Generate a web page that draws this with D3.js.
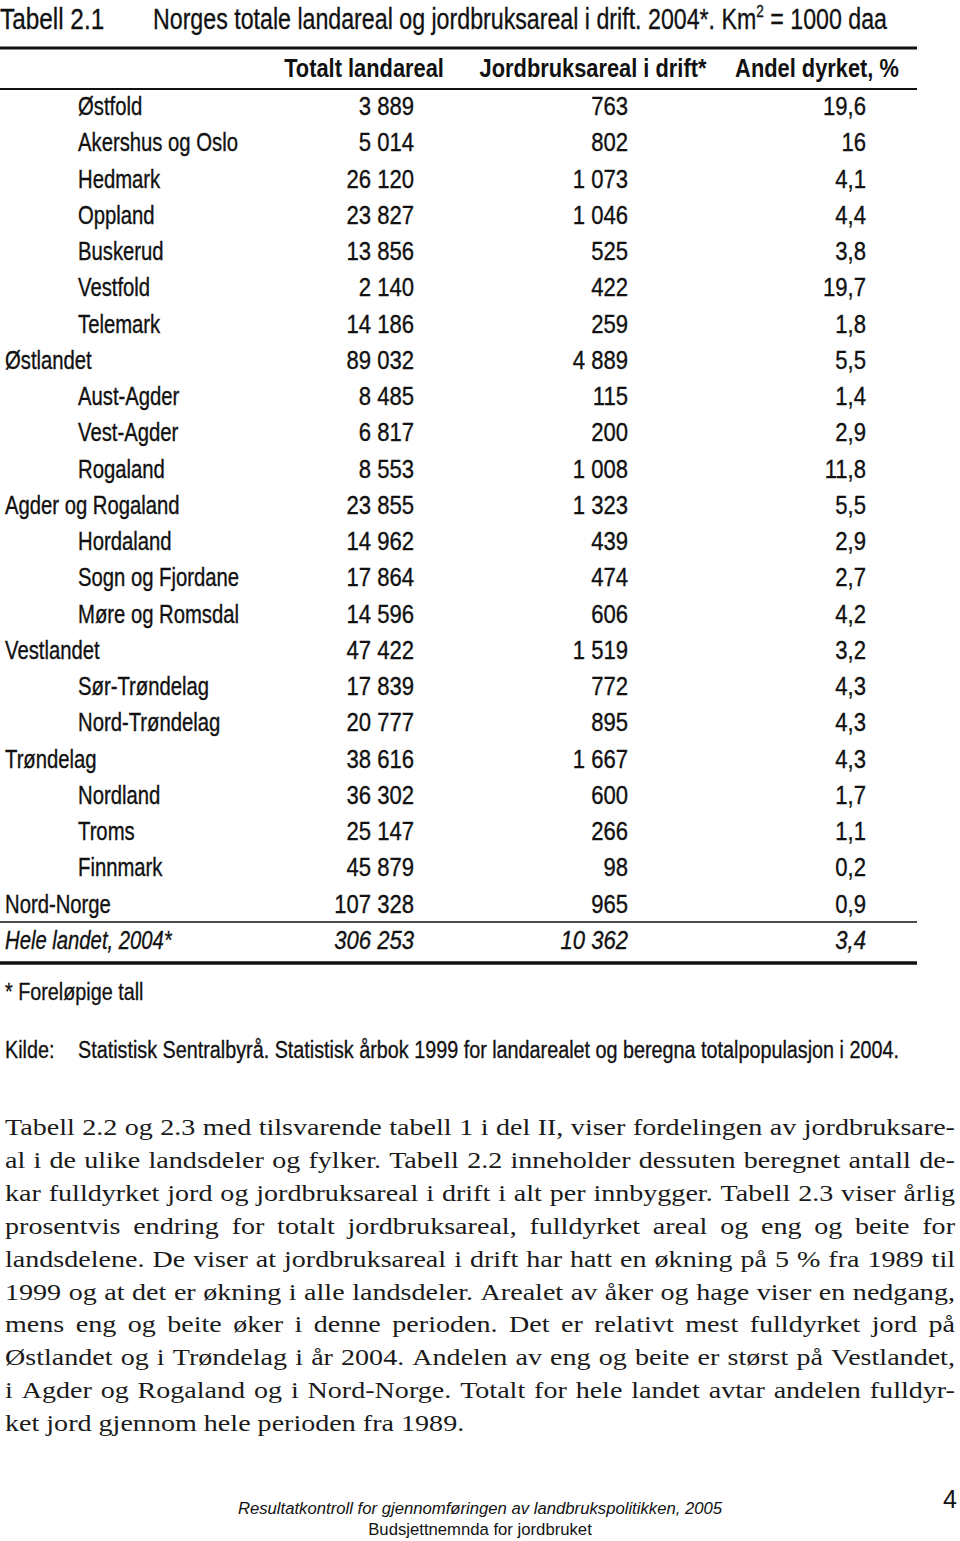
<!DOCTYPE html>
<html>
<head>
<meta charset="utf-8">
<script src="https://cdn.jsdelivr.net/npm/d3@7"></script>
<style>
  body { margin: 0; background: #fff; }
  svg { display: block; }
</style>
</head>
<body>
<script>
const regions = ["Østfold", "Akershus og Oslo", "Hedmark", "Oppland", "Buskerud", "Vestfold", "Telemark",
    "Østlandet", "Aust-Agder", "Vest-Agder", "Rogaland", "Agder og Rogaland", "Hordaland",
    "Sogn og Fjordane", "Møre og Romsdal", "Vestlandet", "Sør-Trøndelag", "Nord-Trøndelag",
    "Trøndelag", "Nordland", "Troms", "Finnmark", "Nord-Norge", "Hele landet, 2004*"];
const indented = [1, 1, 1, 1, 1, 1, 1, 0, 1, 1, 1, 0, 1, 1, 1, 0, 1, 1, 0, 1, 1, 1, 0, 0];
const totalArea = [3889, 5014, 26120, 23827, 13856, 2140, 14186, 89032, 8485, 6817, 8553, 23855,
    14962, 17864, 14596, 47422, 17839, 20777, 38616, 36302, 25147, 45879, 107328, 306253];
const farmArea = [763, 802, 1073, 1046, 525, 422, 259, 4889, 115, 200, 1008, 1323,
    439, 474, 606, 1519, 772, 895, 1667, 600, 266, 98, 965, 10362];
const shareCultivated = [19.6, 16, 4.1, 4.4, 3.8, 19.7, 1.8, 5.5, 1.4, 2.9, 11.8, 5.5,
    2.9, 2.7, 4.2, 3.2, 4.3, 4.3, 4.3, 1.7, 1.1, 0.2, 0.9, 3.4];
const headers = ["Totalt landareal", "Jordbruksareal i drift*", "Andel dyrket, %"];

const paragraph = [
    "Tabell 2.2 og 2.3 med tilsvarende tabell 1 i del II, viser fordelingen av jordbruksare-",
    "al i de ulike landsdeler og fylker. Tabell 2.2 inneholder dessuten beregnet antall de-",
    "kar fulldyrket jord og jordbruksareal i drift i alt per innbygger. Tabell 2.3 viser årlig",
    "prosentvis endring for totalt jordbruksareal, fulldyrket areal og eng og beite for",
    "landsdelene. De viser at jordbruksareal i drift har hatt en økning på 5 % fra 1989 til",
    "1999 og at det er økning i alle landsdeler. Arealet av åker og hage viser en nedgang,",
    "mens eng og beite øker i denne perioden. Det er relativt mest fulldyrket jord på",
    "Østlandet og i Trøndelag i år 2004. Andelen av eng og beite er størst på Vestlandet,",
    "i Agder og Rogaland og i Nord-Norge. Totalt for hele landet avtar andelen fulldyr-",
    "ket jord gjennom hele perioden fra 1989."
];

const W = 960, H = 1541;
const sans = "'Liberation Sans', Arial, sans-serif";
const serif = "'Liberation Serif', 'DejaVu Serif', serif";
const SX = 0.78;      // condensed look for the table font
const SX_NUM = 0.85;
const SX_HEAD = 0.84;
const SX_SERIF = 1.17;
const ink = "#111";

const svg = d3.select("body").append("svg")
    .attr("width", W)
    .attr("height", H)
    .attr("viewBox", "0 0 " + W + " " + H);

const no = d3.formatLocale({decimal: ",", thousands: " ", grouping: [3], currency: ["", ""]});
const fmtInt = no.format(",d");
const fmtPct = no.format(",.1~f");

function tr(x, y, sx) {
    return "translate(" + x + "," + y + ") scale(" + sx + ",1)";
}

const rows = regions.map((name, i) => ({
    name: name,
    indent: indented[i],
    total: totalArea[i],
    farm: farmArea[i],
    share: shareCultivated[i],
    last: i === regions.length - 1
}));

// title
svg.append("text")
    .attr("transform", tr(0, 29, 0.84))
    .attr("font-family", sans)
    .attr("font-size", "29px")
    .attr("fill", ink)
    .attr("stroke", ink).attr("stroke-width", 0.3)
    .text("Tabell 2.1");
const title = svg.append("text")
    .attr("transform", tr(153, 29, 0.8))
    .attr("font-family", sans)
    .attr("font-size", "29px")
    .attr("fill", ink)
    .attr("stroke", ink).attr("stroke-width", 0.3);
title.append("tspan").text("Norges totale landareal og jordbruksareal i drift. 2004*. Km");
title.append("tspan").attr("font-size", "17px").attr("dy", -12).text("2");
title.append("tspan").attr("dy", 12).text(" =  1000 daa");

// row + column scales
const y = d3.scalePoint().domain(rows.map(d => d.name)).range([106, 940]);
const colRight = d3.scaleOrdinal().domain(["total", "farm", "share"]).range([414, 628, 866]);
const headCenter = d3.scaleOrdinal().domain(headers).range([364, 593, 817]);

// rules
const rules = [
    {y: 48, w: 3},
    {y: 89, w: 2},
    {y: 922, w: 1.5},
    {y: 963, w: 3.5}
];
svg.selectAll(".rule")
    .data(rules)
    .enter()
    .append("line")
    .attr("class", "rule")
    .attr("x1", 0)
    .attr("x2", 917)
    .attr("y1", d => d.y)
    .attr("y2", d => d.y)
    .attr("stroke", ink)
    .attr("stroke-width", d => d.w);

// header
svg.selectAll(".head")
    .data(headers)
    .enter()
    .append("text")
    .attr("class", "head")
    .attr("transform", d => tr(headCenter(d), 77, SX_HEAD))
    .attr("text-anchor", "middle")
    .attr("font-family", sans)
    .attr("font-size", "26px")
    .attr("font-weight", "bold")
    .attr("fill", ink)
    .text(d => d);

// body rows
const row = svg.selectAll(".row")
    .data(rows)
    .enter()
    .append("g")
    .attr("class", "row")
    .attr("transform", d => "translate(0," + (y(d.name) + 9) + ")")
    .attr("font-family", sans)
    .attr("font-size", "26px")
    .attr("fill", ink)
    .attr("stroke", ink)
    .attr("stroke-width", 0.35)
    .attr("font-style", d => d.last ? "italic" : "normal");

row.append("text")
    .attr("transform", d => tr(d.indent ? 78 : 5, 0, SX))
    .text(d => d.name);

row.append("text")
    .attr("transform", tr(colRight("total"), 0, SX_NUM))
    .attr("text-anchor", "end")
    .text(d => fmtInt(d.total));

row.append("text")
    .attr("transform", tr(colRight("farm"), 0, SX_NUM))
    .attr("text-anchor", "end")
    .text(d => fmtInt(d.farm));

row.append("text")
    .attr("transform", tr(colRight("share"), 0, SX_NUM))
    .attr("text-anchor", "end")
    .text(d => fmtPct(d.share));

// notes
const notes = [
    {x: 5, y: 1000, t: "* Foreløpige tall"},
    {x: 5, y: 1058, t: "Kilde:"},
    {x: 78, y: 1058, t: "Statistisk Sentralbyrå. Statistisk årbok 1999 for landarealet og beregna totalpopulasjon i 2004."}
];
svg.selectAll(".note")
    .data(notes)
    .enter()
    .append("text")
    .attr("class", "note")
    .attr("transform", d => tr(d.x, d.y, 0.86))
    .attr("font-family", sans)
    .attr("font-size", "23px")
    .attr("fill", ink)
    .attr("stroke", ink)
    .attr("stroke-width", 0.3)
    .text(d => d.t);

// justified paragraph
const left = 5, right = 955;
paragraph.forEach((line, i) => {
    const words = line.split(" ");
    const by = 1135 + i * 32.9;
    const g = svg.append("g")
        .attr("font-family", serif)
        .attr("font-size", "24px")
        .attr("fill", "#1a1a1a");
    const ts = g.selectAll("text")
        .data(words)
        .enter()
        .append("text")
        .text(d => d);
    const widths = [];
    ts.each(function() { widths.push(this.getComputedTextLength() * SX_SERIF); });
    const sum = d3.sum(widths);
    const isLast = i === paragraph.length - 1;
    const gap = isLast ? 7 : (right - left - sum) / (words.length - 1);
    let x = left;
    ts.attr("transform", (d, k) => {
        const cx = x;
        x += widths[k] + gap;
        return tr(cx, by, SX_SERIF);
    });
});

// page footer
svg.append("text")
    .attr("x", 480).attr("y", 1514)
    .attr("text-anchor", "middle")
    .attr("font-family", sans)
    .attr("font-size", "16.7px").attr("font-style", "italic").attr("fill", ink)
    .text("Resultatkontroll for gjennomføringen av landbrukspolitikken, 2005");
svg.append("text")
    .attr("x", 480).attr("y", 1535)
    .attr("text-anchor", "middle")
    .attr("font-family", sans)
    .attr("font-size", "16.7px").attr("fill", ink)
    .text("Budsjettnemnda for jordbruket");
svg.append("text")
    .attr("x", 957).attr("y", 1508)
    .attr("text-anchor", "end")
    .attr("font-family", sans)
    .attr("font-size", "25px").attr("fill", ink)
    .text("4");
</script>
</body>
</html>
